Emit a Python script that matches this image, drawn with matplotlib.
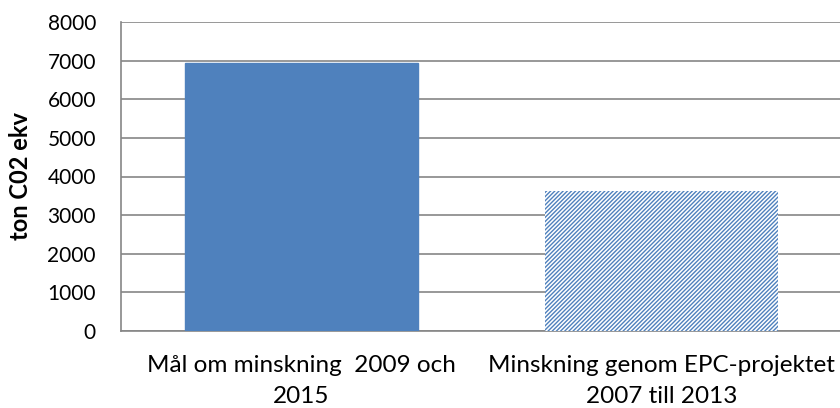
import matplotlib.pyplot as plt
import numpy as np

categories = ["Mål om minskning  2009 och\n2015", "Minskning genom EPC-projektet\n2007 till 2013"]
values = [6950, 3620]
yticks = [0, 1000, 2000, 3000, 4000, 5000, 6000, 7000, 8000]

blue = "#4F81BD"
grey = "#868686"

plt.rcParams["font.family"] = ["Lato", "DejaVu Sans"]
plt.rcParams["hatch.linewidth"] = 1.0

fig = plt.figure(figsize=(8.4, 4.08), dpi=100)
ax = fig.add_axes([121 / 840, 1 - 331 / 408, 721 / 840, 309 / 408])

x = np.arange(len(categories))
bars = ax.bar(x, values, width=0.647, zorder=3)
bars[0].set_facecolor(blue)
bars[0].set_edgecolor(blue)
bars[1].set_facecolor("white")
bars[1].set_edgecolor(blue)
bars[1].set_hatch("////////")
bars[1].set_linewidth(0)

ax.set_xlim(-0.5, 1.5)
ax.set_ylim(0, 8000)
ax.set_yticks(yticks)
ax.set_yticklabels([str(v) for v in yticks], fontsize=15)
ax.set_xticks(x)
ax.set_xticklabels(categories, fontsize=17.5, linespacing=1.6)
ax.tick_params(axis="both", length=0)
ax.tick_params(axis="y", pad=18)
ax.tick_params(axis="x", pad=17)

ax.grid(axis="y", color=grey, linewidth=1.2, zorder=0)
for side in ["top", "right"]:
    ax.spines[side].set_visible(False)
for side in ["left", "bottom"]:
    ax.spines[side].set_color(grey)
    ax.spines[side].set_linewidth(1.2)

ax.set_ylabel("ton C02 ekv", fontsize=17, fontweight="bold", labelpad=11)

fig.savefig("out.png", dpi=100)
